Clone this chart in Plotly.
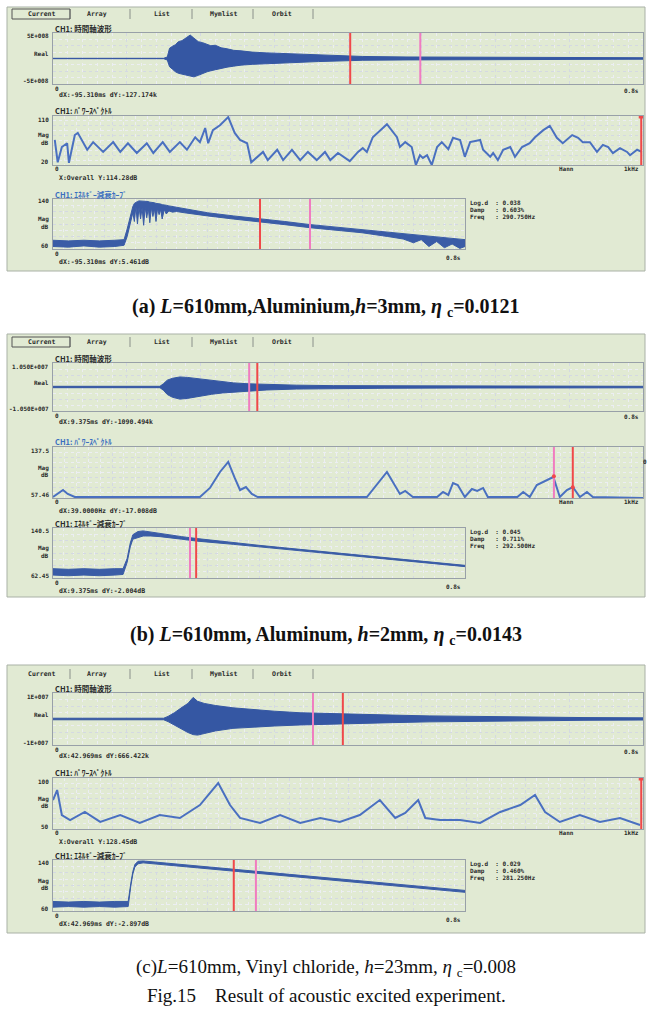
import plotly.graph_objects as go

# ================= DATA =================
# ---- (a) L=610mm, Aluminium, h=3mm ----
A_T   = [0, 0.150, 0.155, 0.158, 0.162, 0.166, 0.170, 0.175, 0.181, 0.186, 0.191, 0.197, 0.203, 0.209,
         0.214, 0.220, 0.228, 0.236, 0.245, 0.255, 0.270, 0.290, 0.310, 0.335, 0.360, 0.385, 0.420,
         0.480, 0.550, 0.650, 0.800]
A_UP  = [0.04, 0.04, 0.3, 2.0, 2.4, 2.7, 3.3, 3.5, 4.1, 4.6, 4.0, 3.3, 3.1, 2.8,
         2.5, 2.6, 2.1, 1.9, 1.6, 1.5, 1.25, 1.1, 1.0, 0.85, 0.65, 0.55, 0.4,
         0.3, 0.25, 0.2, 0.15]                                                              # x1E8
A_LO  = [-0.04, -0.04, -0.3, -1.6, -2.1, -2.6, -2.9, -3.1, -3.3, -3.5, -3.6, -3.3, -2.9, -2.6,
         -2.4, -2.2, -1.9, -1.7, -1.5, -1.3, -1.15, -1.0, -0.9, -0.75, -0.6, -0.5, -0.35,
         -0.28, -0.22, -0.18, -0.14]
A_TIME_CUR = [0.403, 0.498]

A_F  = [3, 8, 15, 24, 27, 37, 42, 58, 68, 85, 102, 114, 127, 142, 159, 170, 186, 198, 215, 227, 241, 249,
        258, 263, 271, 283, 297, 308, 317, 329, 336, 347, 356, 364, 380, 390, 405, 419, 432, 447, 461,
        470, 483, 503, 517, 525, 532, 542, 566, 583, 588, 597, 608, 615, 622, 627, 634, 642, 651, 659,
        670, 678, 690, 698, 707, 724, 729, 741, 746, 754, 763, 775, 783, 795, 808, 817, 831, 842, 854,
        864, 880, 890, 898, 910, 922, 932, 941, 949, 961, 973, 978, 990, 998]
A_DB = [66, 25, 53, 60, 24, 75, 79, 48, 62, 44, 62, 44, 60, 42, 60, 42, 62, 44, 62, 48, 71, 62,
        88, 60, 84, 93, 108, 79, 66, 60, 25, 35, 44, 29, 48, 29, 48, 29, 44, 29, 44,
        29, 42, 27, 44, 51, 44, 71, 95, 71, 53, 62, 53, 20, 38, 33, 38, 20, 53, 62,
        49, 70, 66, 35, 62, 66, 48, 35, 42, 29, 48, 53, 35, 53, 60, 71, 84, 92, 70,
        60, 75, 70, 62, 62, 44, 57, 53, 42, 51, 44, 38, 48, 44]
A_SPEC_CUR = [997]

A_DT  = [0, 0.03, 0.06, 0.09, 0.12, 0.138, 0.144, 0.150, 0.155, 0.158, 0.161, 0.164, 0.167, 0.170,
         0.173, 0.176, 0.179, 0.182, 0.185, 0.188, 0.191, 0.194, 0.197, 0.200, 0.203, 0.206, 0.209,
         0.212, 0.216, 0.220, 0.225, 0.232, 0.240, 0.255, 0.270, 0.300, 0.350, 0.400, 0.450,
         0.500, 0.550, 0.600, 0.650, 0.680, 0.700, 0.715, 0.730, 0.745, 0.760, 0.775, 0.790, 0.800]
A_DHI = [74, 73, 74, 73, 74, 75, 92, 112, 128, 133, 135, 136, 137, 137,
         137, 137, 136, 136, 136, 135, 135, 134, 134, 133, 133, 132, 132,
         131, 131, 130, 129, 128, 127, 125, 122, 118, 113, 109, 104,
         99, 95, 91, 87, 84, 83, 81, 80, 79, 78, 77, 76, 75]
A_DLO = [64, 63, 65, 63, 64, 66, 80, 100, 118, 104, 128, 100, 127, 108,
         126, 98, 127, 110, 125, 102, 126, 112, 124, 104, 125, 115, 123,
         108, 123, 116, 121, 119, 120, 118, 116, 113, 108, 104, 99,
         94, 90, 86, 80, 76, 70, 75, 64, 72, 62, 68, 61, 64]
A_DEC_CUR = [0.402, 0.499]

# ---- (b) L=610mm, Aluminum, h=2mm ----
B_T   = [0, 0.145, 0.150, 0.155, 0.162, 0.172, 0.182, 0.192, 0.200, 0.215, 0.230, 0.245, 0.265, 0.290,
         0.330, 0.380, 0.450, 0.550, 0.800]
B_UP  = [0.3, 0.3, 1.5, 3.0, 3.8, 4.4, 4.2, 3.8, 3.5, 2.8, 2.2, 1.8, 1.4, 1.1, 0.8, 0.6, 0.5, 0.4, 0.3]   # x1E6
B_LO  = [-0.3, -0.3, -1.5, -3.3, -4.5, -5.3, -5.0, -4.4, -4.0, -3.2, -2.6, -2.2, -1.7, -1.3,
         -0.9, -0.7, -0.55, -0.45, -0.35]
B_TIME_CUR = [0.266, 0.277]

B_F  = [0, 8, 17, 25, 37, 249, 266, 283, 297, 308, 317, 327, 337, 347, 532, 566, 588, 597, 610, 651,
        661, 670, 678, 686, 698, 710, 719, 729, 737, 787, 797, 808, 820, 848, 859, 871, 881, 893,
        905, 915, 1000]
B_DB = [59, 63.8, 70, 63.8, 59, 59, 73.2, 98.3, 114, 88.9, 70, 74.7, 63.8, 59, 59, 98.3, 63.8, 68.5, 59, 59,
        66.9, 62.2, 81, 77.9, 59, 71.6, 68.5, 73.2, 59, 59, 66.9, 59, 77.9, 90.4, 59, 70, 74.7, 59,
        66.9, 59, 57.5]
B_SPEC_CUR = [849, 881]
B_SPEC_CUR_DB = [91.5, 74.5]

B_DT  = [0, 0.03, 0.06, 0.09, 0.12, 0.136, 0.144, 0.150, 0.155, 0.165, 0.175, 0.190, 0.208, 0.250,
         0.280, 0.350, 0.400, 0.450, 0.538, 0.600, 0.700, 0.800]
B_DHI = [77, 76, 77, 76, 77, 77, 93, 117, 130, 135, 136, 134, 132, 127, 124, 117.5, 113.5, 109.5,
         102.5, 97.5, 89.8, 82.2]
B_DLO = [67, 66, 67, 66, 67, 68, 87, 111, 123, 126, 128, 128, 127, 123, 120, 115, 111, 107,
         100.5, 95.5, 87.8, 80.2]
B_DEC_CUR = [0.266, 0.278]

# ---- (c) L=610mm, Vinyl chloride, h=23mm ----
C_T   = [0, 0.150, 0.156, 0.165, 0.175, 0.183, 0.190, 0.196, 0.205, 0.220, 0.244, 0.270, 0.300, 0.335,
         0.370, 0.410, 0.460, 0.510, 0.580, 0.650, 0.720, 0.800]
C_UP  = [0.3, 0.3, 1.0, 2.5, 4.5, 6.0, 8.3, 6.8, 6.0, 5.2, 4.3, 3.6, 3.0, 2.4,
         2.1, 1.8, 1.5, 1.2, 0.9, 0.7, 0.55, 0.45]                                         # x1E6
C_LO  = [-0.3, -0.3, -1.0, -2.4, -4.0, -5.2, -6.0, -6.2, -5.6, -4.6, -3.6, -3.1, -2.7, -2.3,
         -2.0, -1.7, -1.4, -1.1, -0.85, -0.65, -0.5, -0.4]
C_TIME_CUR = [0.3525, 0.393]

C_F  = [0, 7, 15, 29, 54, 80, 114, 147, 181, 215, 249, 280, 300, 317, 351, 385, 419, 453, 486, 520,
        554, 580, 597, 619, 631, 656, 690, 724, 758, 792, 817, 834, 859, 893, 927, 961, 995]
C_DB = [78.4, 88.2, 63.7, 58.8, 66.7, 56.9, 63.7, 55.9, 63.7, 60.8, 73.5, 95.1, 73.5, 60.8, 55.9,
        63.7, 55.9, 60.8, 56.9, 63.7, 78.4, 60.8, 65.7, 78.4, 60.8, 58.8, 58.8, 55.9, 66.7, 73.5,
        83.3, 66.7, 56.9, 63.7, 56.9, 60.8, 53.9]
C_SPEC_CUR = [997]

C_DT  = [0, 0.03, 0.06, 0.09, 0.12, 0.146, 0.151, 0.155, 0.159, 0.165, 0.175, 0.250, 0.351, 0.450,
         0.538, 0.650, 0.800]
C_DHI = [75, 74, 75, 74, 75, 75, 103, 122, 133, 138, 138.5, 133, 125.5, 118.2, 112, 103.5, 92.3]
C_DLO = [66, 67, 66, 67, 66, 67, 99, 118, 129, 134, 135.5, 130, 122.5, 115.2, 109, 100.5, 89.3]
C_DEC_CUR = [0.351, 0.394]

TABS = ["Current", "Array", "List", "Mymlist", "Orbit"]

# ================= LAYOUT HELPERS =================
W, H = 651, 1019
def px(x): return x / W
def py(y): return 1 - y / H

GREEN = "#e1ead3"
BLUE_FILL = "#3557a3"
BLUE_LINE = "#4a70c0"
RED = "#f0484a"
PINK = "#f07cc0"
GRID = "#d4d9e2"
MINOR = "#eceef3"
MONO = "DejaVu Sans Mono"
JP = "Noto Sans CJK JP"

fig = go.Figure()
layout = dict(width=W, height=H, margin=dict(l=0, r=0, t=0, b=0),
              paper_bgcolor="white", plot_bgcolor="white", showlegend=False)
shapes, annotations = [], []

def add_axes(n, x0, x1, y0, y1, xr, yr, xdt, xmdt, ydt, ymdt):
    k = "" if n == 1 else str(n)
    layout["xaxis" + k] = dict(domain=[px(x0), px(x1)], range=xr, anchor="y" + k,
                               showticklabels=False, ticks="", zeroline=False,
                               showgrid=True, gridcolor=GRID, griddash="dot", dtick=xdt, tick0=xr[0],
                               minor=dict(dtick=xmdt, tick0=xr[0], showgrid=True, gridcolor=MINOR, griddash="dot"),
                               showline=True, linecolor="#98a0a8", mirror=True, fixedrange=True)
    layout["yaxis" + k] = dict(domain=[py(y1), py(y0)], range=yr, anchor="x" + k,
                               showticklabels=False, ticks="", zeroline=False,
                               showgrid=True, gridcolor=GRID, griddash="dot", dtick=ydt, tick0=yr[0],
                               minor=dict(dtick=ymdt, tick0=yr[0], showgrid=True, gridcolor=MINOR, griddash="dot"),
                               showline=True, linecolor="#98a0a8", mirror=True, fixedrange=True)
    return "x" + k, "y" + k

def txt(x, y, s, size=6.5, color="#2a2a2a", xa="left", family=MONO, bold=True):
    annotations.append(dict(x=px(x), y=py(y), xref="paper", yref="paper", text=("<b>%s</b>" % s) if bold else s,
                            showarrow=False, xanchor=xa, yanchor="middle",
                            font=dict(family=family, size=size, color=color)))

def envelope(xa_, ya_, t, up, lo, color=BLUE_FILL):
    fig.add_trace(go.Scatter(x=t, y=up, xaxis=xa_, yaxis=ya_, mode="lines",
                             line=dict(color=color, width=1), hoverinfo="skip"))
    fig.add_trace(go.Scatter(x=t, y=lo, xaxis=xa_, yaxis=ya_, mode="lines", fill="tonexty",
                             fillcolor=color, line=dict(color=color, width=1), hoverinfo="skip"))

def cursors(xa_, ya_, xs, yr, colors):
    for c, col in zip(xs, colors):
        fig.add_trace(go.Scatter(x=[c, c], y=yr, xaxis=xa_, yaxis=ya_, mode="lines",
                                 line=dict(color=col, width=2), hoverinfo="skip"))

def panel(top, bottom, tab_y, boxed):
    shapes.append(dict(type="rect", xref="paper", yref="paper", x0=px(7), x1=px(645),
                       y0=py(bottom), y1=py(top), fillcolor=GREEN, line=dict(color="#a9b1a6", width=1),
                       layer="below"))
    centers = [41, 97, 162, 223, 282]
    for s, cx in zip(TABS, centers):
        txt(cx, tab_y, s, size=6.5, xa="center")
    for sx in [70, 130, 192, 253, 313]:
        shapes.append(dict(type="line", xref="paper", yref="paper", x0=px(sx), x1=px(sx),
                           y0=py(tab_y + 5), y1=py(tab_y - 5), line=dict(color="#8a908a", width=1)))
    if boxed:
        shapes.append(dict(type="rect", xref="paper", yref="paper", x0=px(12), x1=px(70),
                           y0=py(tab_y + 5), y1=py(tab_y - 5), line=dict(color="#555", width=1)))

def block(time_box, spec_box, dec_box, tdata, sdata, ddata, labels):
    # time waveform
    (x0, x1, y0, y1), yr_t = time_box
    xa_, ya_ = add_axes(labels["n"], x0, x1, y0, y1, [0, 0.8], yr_t, 0.1, 0.02,
                        (yr_t[1] - yr_t[0]) / 4, (yr_t[1] - yr_t[0]) / 8)
    envelope(xa_, ya_, *tdata["env"])
    cursors(xa_, ya_, tdata["cur"], yr_t, [RED, PINK] if labels["first_red"] else [PINK, RED])
    txt(53, y0 - 5, "CH1: 時間軸波形", size=7.5, family=JP)
    txt(51, y0 + 3, labels["tmax"], size=6, xa="right")
    txt(51, (y0 + y1) / 2 - 5, "Real", size=6, xa="right")
    txt(51, y1 - 3, labels["tmin"], size=6, xa="right")
    txt(53, y1 + 4, "0", size=6)
    txt(641, y1 + 6, "0.8s", size=6, xa="right")
    txt(57, y1 + 11, labels["tread"])

    # spectrum
    (x0, x1, y0, y1), yr_s, ydt = spec_box
    xa_, ya_ = add_axes(labels["n"] + 1, x0, x1, y0, y1, [0, 1000], yr_s, 100, 20, ydt, ydt / 2)
    fig.add_trace(go.Scatter(x=sdata["f"], y=sdata["db"], xaxis=xa_, yaxis=ya_, mode="lines",
                             line=dict(color=BLUE_LINE, width=2), hoverinfo="skip"))
    cols = [PINK, RED] if len(sdata["cur"]) == 2 else [RED]
    cursors(xa_, ya_, sdata["cur"], yr_s, cols)
    if "cur_db" in sdata:
        fig.add_trace(go.Scatter(x=sdata["cur"], y=sdata["cur_db"], xaxis=xa_, yaxis=ya_, mode="markers",
                                 marker=dict(color=RED, size=4), hoverinfo="skip"))
    else:
        fig.add_trace(go.Scatter(x=sdata["cur"], y=[yr_s[1]], xaxis=xa_, yaxis=ya_, mode="markers",
                                 marker=dict(color=RED, size=5, symbol="square"), hoverinfo="skip"))
    txt(53, y0 - 6, "CH1: ﾊﾟﾜｰｽﾍﾟｸﾄﾙ", size=7.5, family=JP, color=labels["spec_col"])
    txt(51, y0 + 3, labels["smax"], size=6, xa="right")
    txt(51, (y0 + y1) / 2 - 5, "Mag", size=6, xa="right")
    txt(51, (y0 + y1) / 2 + 2, "dB", size=6, xa="right")
    txt(51, y1 - 3, labels["smin"], size=6, xa="right")
    txt(53, y1 + 3, "0", size=6)
    txt(566, y1 + 3, "Hann", size=6, xa="center")
    txt(641, y1 + 3, "1kHz", size=6, xa="right")
    txt(57, y1 + 13, labels["sread"])
    if labels.get("right0"):
        txt(645, y0 + 15, "0", size=6, xa="center")

    # decay curve
    (x0, x1, y0, y1), yr_d = dec_box
    xa_, ya_ = add_axes(labels["n"] + 2, x0, x1, y0, y1, [0, 0.8], yr_d, 0.1, 0.02,
                        (yr_d[1] - yr_d[0]) / 4, (yr_d[1] - yr_d[0]) / 8)
    envelope(xa_, ya_, *ddata["env"], color="#3a5ca6")
    cursors(xa_, ya_, ddata["cur"], yr_d, [RED, PINK] if labels["dec_first_red"] else [PINK, RED])
    txt(53, y0 - 5, "CH1: ｴﾈﾙｷﾞｰ減衰ｶｰﾌﾞ", size=7.5, family=JP, color=labels["dec_col"])
    txt(51, y0 + 2, labels["dmax"], size=6, xa="right")
    txt(51, (y0 + y1) / 2 - 5, "Mag", size=6, xa="right")
    txt(51, (y0 + y1) / 2 + 2, "dB", size=6, xa="right")
    txt(51, y1 - 3, labels["dmin"], size=6, xa="right")
    txt(53, y1 + 4, "0", size=6)
    txt(463, y1 + 8, "0.8s", size=6, xa="right")
    txt(57, y1 + 13, labels["dread"])
    for i, s in enumerate(labels["right"]):
        txt(468, y0 + 4 + 7 * i, s, size=6)

# ---------------- panel (a) ----------------
panel(7, 271, 14, True)
block(((53, 643, 33, 84), [-5, 5]),
      ((53, 643, 116, 165), [20, 110], 18),
      ((53, 465, 199, 249), [60, 140]),
      dict(env=(A_T, A_UP, A_LO), cur=A_TIME_CUR),
      dict(f=A_F, db=A_DB, cur=A_SPEC_CUR),
      dict(env=(A_DT, A_DHI, A_DLO), cur=A_DEC_CUR),
      dict(n=1, first_red=True, dec_first_red=True, tmax="5E+008", tmin="-5E+008",
           tread="dX:-95.310ms dY:-127.174k", smax="110", smin="20", sread="X:Overall Y:114.28dB",
           spec_col="#2a2a2a", dec_col="#3b6fc0", dmax="140", dmin="60",
           dread="dX:-95.310ms dY:5.461dB",
           right=["Log.d  : 0.038", "Damp   : 0.603%", "Freq   : 290.750Hz"]))

# ---------------- panel (b) ----------------
panel(334, 597, 342, True)
block(((53, 643, 363, 411), [-10.5, 10.5]),
      ((53, 643, 447, 498), [57.46, 137.5], 16.008),
      ((53, 465, 528, 578), [62.45, 140.5]),
      dict(env=(B_T, B_UP, B_LO), cur=B_TIME_CUR),
      dict(f=B_F, db=B_DB, cur=B_SPEC_CUR, cur_db=B_SPEC_CUR_DB),
      dict(env=(B_DT, B_DHI, B_DLO), cur=B_DEC_CUR),
      dict(n=4, first_red=False, dec_first_red=False, tmax="1.050E+007", tmin="-1.050E+007",
           tread="dX:9.375ms dY:-1090.494k", smax="137.5", smin="57.46", sread="dX:39.0000Hz dY:-17.008dB",
           spec_col="#3b6fc0", dec_col="#2a2a2a", dmax="140.5", dmin="62.45",
           dread="dX:9.375ms dY:-2.004dB", right0=True,
           right=["Log.d  : 0.045", "Damp   : 0.711%", "Freq   : 292.500Hz"]))

# ---------------- panel (c) ----------------
panel(665, 933, 674, False)
block(((53, 643, 693, 745), [-10, 10]),
      ((53, 643, 778, 829), [50, 100], 10),
      ((53, 465, 860, 911), [60, 140]),
      dict(env=(C_T, C_UP, C_LO), cur=C_TIME_CUR),
      dict(f=C_F, db=C_DB, cur=C_SPEC_CUR),
      dict(env=(C_DT, C_DHI, C_DLO), cur=C_DEC_CUR),
      dict(n=7, first_red=False, dec_first_red=True, tmax="1E+007", tmin="-1E+007",
           tread="dX:42.969ms dY:666.422k", smax="100", smin="50", sread="X:Overall Y:128.45dB",
           spec_col="#2a2a2a", dec_col="#2a2a2a", dmax="140", dmin="60",
           dread="dX:42.969ms dY:-2.897dB",
           right=["Log.d  : 0.029", "Damp   : 0.460%", "Freq   : 281.250Hz"]))

# ---------------- captions ----------------
SERIF = "Liberation Serif"
def cap(y, s, size=20):
    annotations.append(dict(x=px(326), y=py(y), xref="paper", yref="paper", text=s, showarrow=False,
                            xanchor="center", yanchor="middle", font=dict(family=SERIF, size=size, color="#111")))
cap(308, "<b>(a) <i>L</i>=610mm,Aluminium,<i>h</i>=3mm, <i>η</i> <sub>c</sub>=0.0121</b>")
cap(635, "<b>(b) <i>L</i>=610mm, Aluminum, <i>h</i>=2mm, <i>η</i> <sub>c</sub>=0.0143</b>")
cap(968, "(c)<i>L</i>=610mm, Vinyl chloride, <i>h</i>=23mm, <i>η</i> <sub>c</sub>=0.008", 19)
cap(995, "Fig.15&nbsp;&nbsp;&nbsp;&nbsp;Result of acoustic excited experiment.", 19)

layout["shapes"] = shapes
layout["annotations"] = annotations
fig.update_layout(**layout)
fig.write_html("out.html")
